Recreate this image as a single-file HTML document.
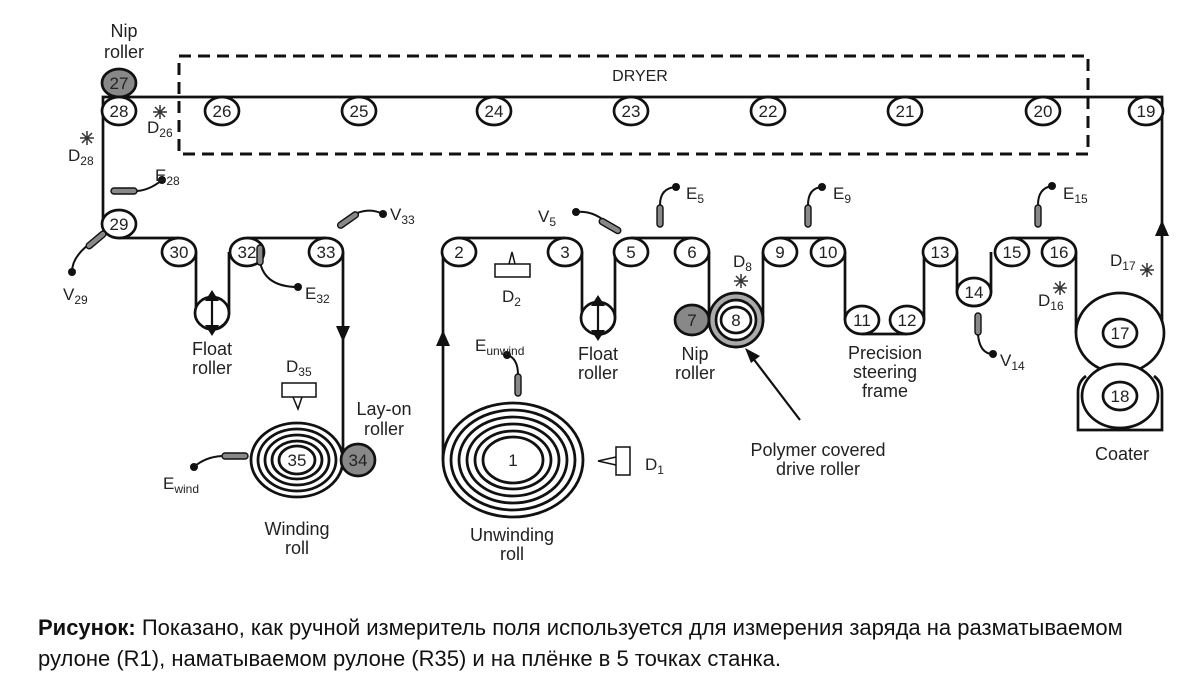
<!DOCTYPE html>
<html><head><meta charset="utf-8"><style>
html,body{margin:0;padding:0;background:#fff;}
.cap{position:absolute;left:38px;top:612px;font:22px "Liberation Sans",sans-serif;color:#111;line-height:31px;white-space:nowrap;}
</style></head><body>
<div style="position:relative;width:1200px;height:692px;overflow:hidden">
<svg width="1200" height="600" viewBox="0 0 1200 600" xmlns="http://www.w3.org/2000/svg" style="position:absolute;left:0;top:0" font-family="Liberation Sans, sans-serif" font-size="14" fill="none" stroke="#111" stroke-width="2.7">
<!-- dryer -->
<rect x="179" y="56" width="909" height="98" stroke-dasharray="12,7" stroke-width="3"/>
<text x="640" y="81" fill="#222" stroke="none" text-anchor="middle" font-size="16">DRYER</text>
<!-- web path -->
<path d="M103,111 L103,97 L1162,97 L1162,333"/>
<path d="M103,111 L103,224"/>
<path d="M103,224 A16,14 0 0 0 119,238 L179,238"/>
<path d="M196,252 L196,313 A16,16 0 0 0 229,313 L229,252"/>
<path d="M247,238 L326,238 M343,252 L343,460"/>
<path d="M443,460 L443,252 A16,14 0 0 1 459,238 L565,238"/>
<path d="M582,252 L582,318 A16,16 0 0 0 615,318 L615,252 M631,238 L692,238"/>
<path d="M709,252 L709,320 A27,27 0 0 0 763,320 L763,252 M780,238 L828,238"/>
<path d="M845,252 L845,320 M862,334 L907,334 M924,320 L924,252 M957,252 L957,292 A17,14 0 0 0 991,292 L991,252 M1012,238 L1059,238 M1076,252 L1076,333"/>
<g fill="#111" stroke="none">
<path d="M336,326 L350,326 L343,342z"/>
<path d="M436,346 L450,346 L443,330z"/>
<path d="M1155,236 L1169,236 L1162,220z"/>
</g>
<g fill="#fff">
<ellipse cx="119" cy="83" rx="17" ry="14" fill="#888"/>
<ellipse cx="119" cy="111" rx="17" ry="14"/>
<ellipse cx="222" cy="111" rx="17" ry="14"/><ellipse cx="359" cy="111" rx="17" ry="14"/>
<ellipse cx="494" cy="111" rx="17" ry="14"/><ellipse cx="631" cy="111" rx="17" ry="14"/>
<ellipse cx="768" cy="111" rx="17" ry="14"/><ellipse cx="905" cy="111" rx="17" ry="14"/>
<ellipse cx="1043" cy="111" rx="17" ry="14"/><ellipse cx="1146" cy="111" rx="17" ry="14"/>
<ellipse cx="119" cy="224" rx="17" ry="14"/>
<ellipse cx="179" cy="252" rx="17" ry="14"/><ellipse cx="247" cy="252" rx="17" ry="14"/><ellipse cx="326" cy="252" rx="17" ry="14"/>
<ellipse cx="212" cy="313" rx="17" ry="16"/><ellipse cx="598" cy="318" rx="17" ry="16"/>
<ellipse cx="459" cy="252" rx="17" ry="14"/><ellipse cx="565" cy="252" rx="17" ry="14"/>
<ellipse cx="631" cy="252" rx="17" ry="14"/><ellipse cx="692" cy="252" rx="17" ry="14"/>
<ellipse cx="692" cy="320" rx="17" ry="15" fill="#888"/>
<circle cx="736" cy="320" r="27" fill="#aaa"/><circle cx="736" cy="320" r="20"/><ellipse cx="736" cy="320" rx="15" ry="13"/>
<ellipse cx="780" cy="252" rx="17" ry="14"/><ellipse cx="828" cy="252" rx="17" ry="14"/>
<ellipse cx="862" cy="320" rx="17" ry="14"/><ellipse cx="907" cy="320" rx="17" ry="14"/>
<ellipse cx="940" cy="252" rx="17" ry="14"/><ellipse cx="974" cy="292" rx="17" ry="14"/>
<ellipse cx="1012" cy="252" rx="17" ry="14"/><ellipse cx="1059" cy="252" rx="17" ry="14"/>
<ellipse cx="1120" cy="333" rx="44" ry="40"/><ellipse cx="1120" cy="333" rx="17" ry="14"/>
<ellipse cx="1120" cy="396" rx="38" ry="32"/><ellipse cx="1120" cy="396" rx="17" ry="14"/>
</g>
<path d="M1086,376 Q1078,382 1078,392 L1078,430 L1162,430 L1162,392 Q1162,382 1154,376"/>
<g stroke-width="2.8">
<ellipse cx="297" cy="460" rx="46" ry="37"/><ellipse cx="297" cy="460" rx="39" ry="31"/>
<ellipse cx="297" cy="460" rx="32" ry="25"/><ellipse cx="297" cy="460" rx="25" ry="19"/><ellipse cx="297" cy="460" rx="18" ry="14"/>
<ellipse cx="513" cy="460" rx="70" ry="57"/><ellipse cx="513" cy="460" rx="62" ry="50"/><ellipse cx="513" cy="460" rx="54" ry="43"/>
<ellipse cx="513" cy="460" rx="46" ry="36"/><ellipse cx="513" cy="460" rx="38" ry="29"/><ellipse cx="513" cy="460" rx="30" ry="23"/>
</g>
<ellipse cx="358" cy="460" rx="17" ry="16" fill="#888"/>
<!-- float arrows -->
<path d="M212,300 L212,326 M598,305 L598,331" stroke-width="2.2"/>
<path d="M205,301 L212,290 L219,301z M205,325 L212,336 L219,325z M591,306 L598,295 L605,306z M591,330 L598,341 L605,330z" fill="#111" stroke="none"/>
<!-- polymer arrow -->
<path d="M800,420 L752,357" stroke-width="2.2"/>
<path d="M745,348 L760,356 L751,363z" fill="#111" stroke="none"/>
<!-- sensors -->
<g stroke-width="2">
<path d="M137,191 Q150,190 162,180"/>
<path d="M95,240 Q72,255 72,272"/>
<path d="M345,220 Q365,205 383,214"/>
<path d="M260,262 Q265,287 298,287"/>
<path d="M610,226 Q595,210 576,212"/>
<path d="M660,205 Q660,188 676,187"/>
<path d="M808,205 Q808,188 822,187"/>
<path d="M1038,205 Q1038,188 1052,186"/>
<path d="M978,335 Q980,354 993,354"/>
<path d="M518,375 Q518,358 507,355"/>
<path d="M222,456 Q205,457 194,467"/>
</g>
<g fill="#888" stroke-width="1.4">
<rect x="111" y="188" width="26" height="6" rx="3"/>
<rect x="84" y="237" width="24" height="6" rx="3" transform="rotate(-40 96 240)"/>
<rect x="336" y="217" width="24" height="6" rx="3" transform="rotate(-35 348 220)"/>
<rect x="257" y="245" width="6" height="20" rx="3"/>
<rect x="598" y="223" width="24" height="6" rx="3" transform="rotate(30 610 226)"/>
<rect x="657" y="205" width="6" height="22" rx="3"/>
<rect x="805" y="205" width="6" height="22" rx="3"/>
<rect x="1035" y="205" width="6" height="22" rx="3"/>
<rect x="975" y="313" width="6" height="22" rx="3"/>
<rect x="515" y="374" width="6" height="22" rx="3"/>
<rect x="222" y="453" width="26" height="6" rx="3"/>
</g>
<g fill="#111" stroke="none">
<circle cx="162" cy="180" r="4"/><circle cx="72" cy="272" r="4"/><circle cx="383" cy="214" r="4"/>
<circle cx="298" cy="287" r="4"/><circle cx="576" cy="212" r="4"/><circle cx="676" cy="187" r="4"/>
<circle cx="822" cy="187" r="4"/><circle cx="1052" cy="186" r="4"/><circle cx="993" cy="354" r="4"/>
<circle cx="507" cy="355" r="4"/><circle cx="194" cy="467" r="4"/>
</g>
<g stroke-width="1.5">
<rect x="495" y="264" width="35" height="13"/><path d="M509,264 L512,252 L515,264"/>
<rect x="282" y="383" width="34" height="14"/><path d="M293,397 L298,409 L302,397"/>
<rect x="616" y="447" width="14" height="28"/><path d="M616,457 L598,461 L616,465"/>
</g>
<g stroke-width="1.5" stroke="#333">
<path d="M-7,0H7M0,-7V7M-5,-5L5,5M-5,5L5,-5" transform="translate(160,112)"/>
<path d="M-7,0H7M0,-7V7M-5,-5L5,5M-5,5L5,-5" transform="translate(87,138)"/>
<path d="M-7,0H7M0,-7V7M-5,-5L5,5M-5,5L5,-5" transform="translate(741,281)"/>
<path d="M-7,0H7M0,-7V7M-5,-5L5,5M-5,5L5,-5" transform="translate(1060,288)"/>
<path d="M-7,0H7M0,-7V7M-5,-5L5,5M-5,5L5,-5" transform="translate(1147,270)"/>
</g>
<!-- roller numbers -->
<g fill="#222" stroke="none" text-anchor="middle" font-size="17">
<text x="119" y="89">27</text><text x="119" y="117">28</text><text x="222" y="117">26</text><text x="359" y="117">25</text>
<text x="494" y="117">24</text><text x="631" y="117">23</text><text x="768" y="117">22</text><text x="905" y="117">21</text>
<text x="1043" y="117">20</text><text x="1146" y="117">19</text><text x="119" y="230">29</text>
<text x="179" y="258">30</text><text x="247" y="258">32</text><text x="326" y="258">33</text>
<text x="459" y="258">2</text><text x="565" y="258">3</text><text x="631" y="258">5</text><text x="692" y="258">6</text>
<text x="692" y="326">7</text><text x="736" y="326">8</text><text x="780" y="258">9</text><text x="828" y="258">10</text>
<text x="862" y="326">11</text><text x="907" y="326">12</text><text x="940" y="258">13</text><text x="974" y="298">14</text>
<text x="1012" y="258">15</text><text x="1059" y="258">16</text><text x="1120" y="339">17</text><text x="1120" y="402">18</text>
<text x="297" y="466">35</text><text x="358" y="466">34</text><text x="513" y="466">1</text>
</g>
<g fill="#222" stroke="none" text-anchor="middle" font-size="18">
<text x="124" y="37">Nip</text><text x="124" y="58">roller</text>
<text x="212" y="355">Float</text><text x="212" y="374">roller</text>
<text x="598" y="360">Float</text><text x="598" y="379">roller</text>
<text x="695" y="360">Nip</text><text x="695" y="379">roller</text>
<text x="885" y="359">Precision</text><text x="885" y="378">steering</text><text x="885" y="397">frame</text>
<text x="384" y="415">Lay-on</text><text x="384" y="435">roller</text>
<text x="297" y="535">Winding</text><text x="297" y="554">roll</text>
<text x="512" y="541">Unwinding</text><text x="512" y="560">roll</text>
<text x="818" y="456">Polymer covered</text><text x="818" y="475">drive roller</text>
<text x="1122" y="460">Coater</text>
</g>
<g fill="#222" stroke="none" font-size="17">
<text x="155" y="181">E<tspan font-size="12" dy="4">28</tspan></text>
<text x="147" y="133">D<tspan font-size="12" dy="4">26</tspan></text>
<text x="68" y="161">D<tspan font-size="12" dy="4">28</tspan></text>
<text x="63" y="300">V<tspan font-size="12" dy="4">29</tspan></text>
<text x="390" y="220">V<tspan font-size="12" dy="4">33</tspan></text>
<text x="305" y="299">E<tspan font-size="12" dy="4">32</tspan></text>
<text x="502" y="302">D<tspan font-size="12" dy="4">2</tspan></text>
<text x="538" y="222">V<tspan font-size="12" dy="4">5</tspan></text>
<text x="686" y="199">E<tspan font-size="12" dy="4">5</tspan></text>
<text x="833" y="199">E<tspan font-size="12" dy="4">9</tspan></text>
<text x="1063" y="199">E<tspan font-size="12" dy="4">15</tspan></text>
<text x="733" y="267">D<tspan font-size="12" dy="4">8</tspan></text>
<text x="1038" y="306">D<tspan font-size="12" dy="4">16</tspan></text>
<text x="1110" y="266">D<tspan font-size="12" dy="4">17</tspan></text>
<text x="1000" y="366">V<tspan font-size="12" dy="4">14</tspan></text>
<text x="475" y="351">E<tspan font-size="12" dy="4">unwind</tspan></text>
<text x="286" y="372">D<tspan font-size="12" dy="4">35</tspan></text>
<text x="645" y="470">D<tspan font-size="12" dy="4">1</tspan></text>
<text x="163" y="489">E<tspan font-size="12" dy="4">wind</tspan></text>
</g>
</svg>
<div class="cap"><b>Рисунок:</b> Показано, как ручной измеритель поля используется для измерения заряда на разматываемом<br>рулоне (R1), наматываемом рулоне (R35) и на плёнке в 5 точках станка.</div>
</div>
</body></html>
